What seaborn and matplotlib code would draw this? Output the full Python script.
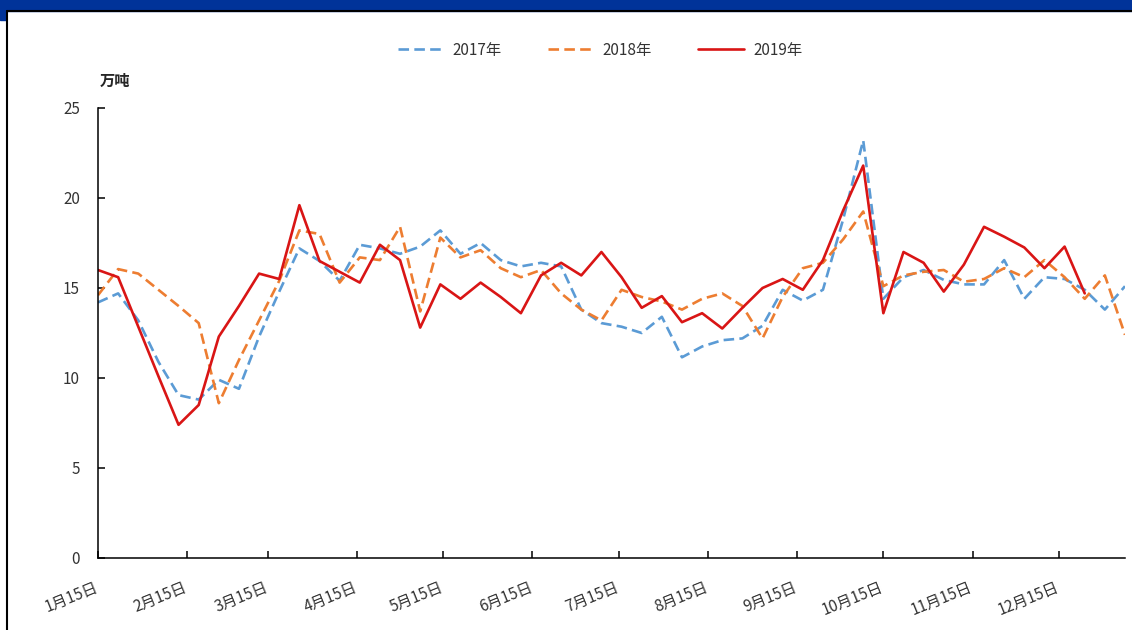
import numpy as np
import pandas as pd
import seaborn as sns
import matplotlib.pyplot as plt
from matplotlib.patches import Rectangle
from matplotlib.lines import Line2D
from matplotlib.transforms import ScaledTranslation

sns.set_style("white")
plt.rcParams['font.family'] = ['Noto Sans CJK SC', 'DejaVu Sans']

# -----------------------------
# DATA (weekly, 万吨)
# -----------------------------
years = ['2017年', '2018年', '2019年']

v2017 = [14.2, 14.7, 13.2, 10.9, 9.05, 8.8, 9.9, 9.4, 12.3, 14.8,
         17.2, 16.5, 15.4, 17.4, 17.2, 16.9, 17.3, 18.2, 16.9, 17.5,
         16.55, 16.2, 16.4, 16.2, 13.8, 13.05, 12.85, 12.5, 13.4, 11.15,
         11.75, 12.1, 12.2, 12.9, 14.9, 14.3, 14.9, 18.8, 23.2, 14.4,
         15.6, 16.0, 15.45, 15.2, 15.2, 16.55, 14.4, 15.6, 15.5, 14.9,
         13.8, 15.1]

v2018 = [14.6, 16.05, 15.8, 14.9, 14.0, 13.05, 8.6, 11.0, 13.2, 15.4,
         18.2, 18.0, 15.3, 16.7, 16.55, 18.4, 13.7, 17.8, 16.7, 17.1,
         16.1, 15.6, 16.0, 14.7, 13.8, 13.2, 14.9, 14.5, 14.25, 13.8,
         14.4, 14.7, 14.0, 12.2, 14.5, 16.1, 16.4, 17.7, 19.25, 15.1,
         15.7, 15.9, 16.0, 15.35, 15.5, 16.1, 15.6, 16.55, 15.6, 14.4,
         15.7, 12.4]

v2019 = [16.0, 15.6, 12.85, 10.1, 7.4, 8.5, 12.3, 14.0, 15.8, 15.5,
         19.6, 16.5, 15.9, 15.3, 17.4, 16.55, 12.8, 15.2, 14.4, 15.3,
         14.5, 13.6, 15.7, 16.4, 15.7, 17.0, 15.6, 13.9, 14.55, 13.1,
         13.6, 12.75, 13.9, 15.0, 15.5, 14.9, 16.55, 19.3, 21.8, 13.6,
         17.0, 16.4, 14.8, 16.3, 18.4, 17.85, 17.25, 16.1, 17.3, 14.7]

weeks = pd.date_range('2019-01-15', periods=52, freq='7D')
tick_dates = [pd.Timestamp(2019, m, 15) for m in range(1, 13)]
tick_labels = [f'{m}月15日' for m in range(1, 13)]

frames = []
for name, vals in zip(years, [v2017, v2018, v2019]):
    frames.append(pd.DataFrame({'date': weeks[:len(vals)], 'value': vals, 'year': name}))
df = pd.concat(frames, ignore_index=True)

colors = {'2017年': '#5B9BD5', '2018年': '#ED7D31', '2019年': '#D91515'}
dashes = {'2017年': (4, 2), '2018年': (4, 2), '2019年': ''}

# -----------------------------
# FIGURE
# -----------------------------
fig = plt.figure(figsize=(11.32, 6.3), dpi=100)
W, H = 1132, 630

# blue band + frame at top/left
fig.patches.append(Rectangle((0, 1 - 10.5 / H), 1, 10.5 / H, transform=fig.transFigure,
                             color='#003399', zorder=0))
fig.patches.append(Rectangle((0, 1 - 20 / H), 6 / W, 20 / H, transform=fig.transFigure,
                             color='#003399', zorder=0))
fig.lines.append(Line2D([6.5 / W, 6.5 / W], [0, 1 - 10.5 / H], transform=fig.transFigure,
                        color='black', lw=1.5))
fig.lines.append(Line2D([6.5 / W, 1], [1 - 10.5 / H, 1 - 10.5 / H], transform=fig.transFigure,
                        color='black', lw=1.5))

ax = fig.add_axes([98 / W, 72 / H, 1027 / W, 450 / H])

sns.lineplot(data=df, x='date', y='value', hue='year', style='year',
             palette=colors, dashes=dashes, linewidth=1.9, ax=ax)

ax.set_ylim(0, 25)
ax.set_yticks(range(0, 26, 5))
ax.set_xlim(weeks[0], weeks[0] + pd.Timedelta(days=357))
ax.set_xticks(tick_dates)
ax.set_xticklabels(tick_labels, rotation=22, ha='right', rotation_mode='anchor')
ax.set_xlabel('')
ax.set_ylabel('')

for side in ['top', 'right']:
    ax.spines[side].set_visible(False)
for side in ['left', 'bottom']:
    ax.spines[side].set_color('black')
    ax.spines[side].set_linewidth(1.1)

ax.tick_params(axis='both', direction='in', length=5, width=1.1, colors='black',
               labelcolor='#333333', labelsize=11, bottom=True, left=True)
ax.tick_params(axis='y', pad=13)
ax.tick_params(axis='x', pad=15)
for lab in ax.get_xticklabels():
    lab.set_transform(lab.get_transform() + ScaledTranslation(-0.04, 0, fig.dpi_scale_trans))

fig.text(100 / W, 1 - 81 / H, '万吨', fontsize=11, fontweight='bold', va='center', ha='left')

sns.move_legend(ax, 'center', bbox_to_anchor=(600 / W, 1 - 50 / H),
                bbox_transform=fig.transFigure, ncol=3, frameon=False, title=None,
                fontsize=11, handlelength=3.0, columnspacing=3.0, handletextpad=0.6)
for t in ax.get_legend().get_texts():
    t.set_color('#333333')

fig.savefig('out.png', dpi=100)
